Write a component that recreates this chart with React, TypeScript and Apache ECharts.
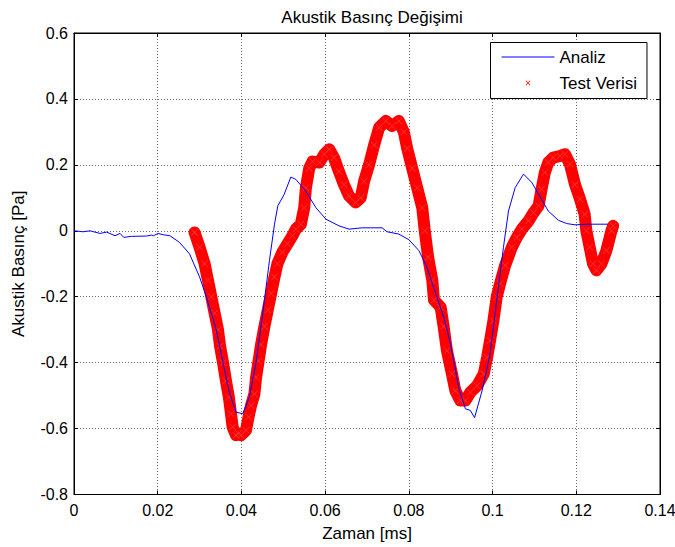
import React, { useEffect, useRef } from "react";
import * as echarts from "echarts";

const xTicks = [0, 0.02, 0.04, 0.06, 0.08, 0.1, 0.12, 0.14];
const yTicks = [-0.8, -0.6, -0.4, -0.2, 0, 0.2, 0.4, 0.6];

const analizX = [
  0, 0.0022, 0.0038, 0.0062, 0.0078, 0.0098, 0.011, 0.0119, 0.0137, 0.0173, 0.0185, 0.019, 0.0201, 0.0213,
  0.0229, 0.0252, 0.0276, 0.03, 0.0316, 0.034, 0.0356, 0.0371, 0.0387, 0.0403, 0.0419, 0.0435, 0.045,
  0.0467, 0.0479, 0.0487, 0.0502, 0.0518, 0.053, 0.0554, 0.0578, 0.0602, 0.0633, 0.0657, 0.0688, 0.0736,
  0.0748, 0.0776, 0.08, 0.0824, 0.0843, 0.0864, 0.0883, 0.0899, 0.0919, 0.0935, 0.0947, 0.0957, 0.0975,
  0.0994, 0.1014, 0.1026, 0.1038, 0.1054, 0.1074, 0.1094, 0.111, 0.1133, 0.1157, 0.1177, 0.1197, 0.1229,
  0.1276,
];
const analizY = [
  0, -0.003, 0, -0.008, -0.004, -0.015, -0.008, -0.02, -0.017, -0.016, -0.013, -0.015, -0.008, -0.012,
  -0.015, -0.035, -0.07, -0.14, -0.2, -0.3, -0.4, -0.49, -0.55, -0.555, -0.505, -0.4, -0.26,
  -0.09, 0.02, 0.076, 0.11, 0.163, 0.156, 0.12, 0.07, 0.035, 0.015, 0.005, 0.009, 0.009,
  -0.003, -0.01, -0.027, -0.06, -0.11, -0.19, -0.26, -0.34, -0.475, -0.54, -0.545, -0.567, -0.485,
  -0.374, -0.17, -0.05, 0.06, 0.131, 0.172, 0.146, 0.111, 0.06, 0.032, 0.022, 0.018, 0.02,
  0.02,
];

const testX = [
  0.0288, 0.03, 0.0312, 0.032, 0.0328, 0.0336, 0.0344, 0.0349, 0.0356, 0.0363, 0.037, 0.0375, 0.0379,
  0.0387, 0.0393, 0.0399, 0.0411, 0.0417, 0.0423, 0.0431, 0.0435, 0.0441, 0.0447, 0.0455, 0.0463, 0.0471,
  0.0479, 0.0486, 0.0498, 0.051, 0.0522, 0.053, 0.0542, 0.055, 0.0554, 0.0562, 0.057, 0.0586, 0.0598,
  0.061, 0.0621, 0.0633, 0.0645, 0.0657, 0.0673, 0.0685, 0.0693, 0.0705, 0.0717, 0.0729, 0.0745, 0.076,
  0.0776, 0.0788, 0.0796, 0.0808, 0.082, 0.0832, 0.0838, 0.0846, 0.0856, 0.086, 0.0876, 0.0883, 0.0891,
  0.0903, 0.0911, 0.0923, 0.0935, 0.0947, 0.0963, 0.0979, 0.0987, 0.0994, 0.1002, 0.101, 0.1018, 0.103,
  0.1046, 0.1058, 0.107, 0.1086, 0.1098, 0.111, 0.1117, 0.1125, 0.1133, 0.1145, 0.1161, 0.1173, 0.1185,
  0.1197, 0.1209, 0.122, 0.1224, 0.1232, 0.124, 0.1248, 0.126, 0.1272, 0.1284, 0.1288,
];
const testY = [
  -0.005, -0.05, -0.1, -0.15, -0.2, -0.25, -0.3, -0.35, -0.4, -0.455, -0.505, -0.555, -0.595,
  -0.62, -0.615, -0.62, -0.605, -0.565, -0.53, -0.495, -0.445, -0.395, -0.345, -0.29, -0.24, -0.19,
  -0.14, -0.1, -0.065, -0.04, -0.015, 0.005, 0.02, 0.07, 0.13, 0.19, 0.21, 0.207, 0.232,
  0.247, 0.222, 0.18, 0.14, 0.106, 0.086, 0.1, 0.15, 0.2, 0.26, 0.313, 0.333, 0.318,
  0.333, 0.3, 0.25, 0.19, 0.13, 0.07, 0.0, -0.08, -0.15, -0.21, -0.232, -0.29, -0.364,
  -0.434, -0.485, -0.515, -0.515, -0.49, -0.47, -0.434, -0.384, -0.333, -0.273, -0.2, -0.16, -0.105,
  -0.05, -0.02, 0.005, 0.03, 0.055, 0.076, 0.126, 0.177, 0.207, 0.222, 0.227, 0.232, 0.202,
  0.14, 0.096, 0.05, 0.0, -0.05, -0.1, -0.12, -0.1, -0.06, 0.0, 0.015,
];

const X_ICON =
  "path://M0,0L0.01,0L0,0.01Z M20,20L19.99,20L20,19.99Z M6.5,7.3L7.3,6.5L10,9.2L12.7,6.5L13.5,7.3L10.8,10L13.5,12.7L12.7,13.5L10,10.8L7.3,13.5L6.5,12.7L9.2,10Z";
const X_MARK =
  "path://M0,0.8L0.8,0L5,4.2L9.2,0L10,0.8L5.8,5L10,9.2L9.2,10L5,5.8L0.8,10L0,9.2L4.2,5Z";
const LINE_ICON = "path://M0,0L53,0L53,1.1L0,1.1Z";

const FONT = "Arial, 'Liberation Sans', sans-serif";

export default function App() {
  const ref = useRef<HTMLDivElement>(null);
  useEffect(() => {
    if (!ref.current) return;
    const chart = echarts.init(ref.current, null, { renderer: "svg" });
    const axisCommon = {
      type: "value" as const,
      axisLine: { show: true, onZero: false, lineStyle: { color: "#000", width: 1 } },
      axisTick: { show: true, inside: true, length: 4, lineStyle: { color: "#000" } },
    };
    const fmt = (ticks: number[]) => (v: number) => {
      const t = ticks.find((k) => Math.abs(k - v) < 1e-9);
      return String(t !== undefined ? t : v);
    };
    chart.setOption({
      animation: false,
      backgroundColor: "#fff",
      title: {
        text: "Akustik Basınç Değişimi",
        left: 367,
        top: 4,
        textAlign: "center",
        textStyle: { fontFamily: FONT, fontSize: 17, fontWeight: "normal", color: "#000" },
      },
      grid: {
        left: 74,
        right: 15,
        top: 33,
        bottom: 52.5,
        containLabel: false,
        outerBoundsMode: "none",
        show: true,
        borderColor: "#000",
        borderWidth: 1,
        backgroundColor: "#fff",
      },
      legend: {
        left: 490.5,
        top: 42.5,
        orient: "vertical",
        selectedMode: false,
        backgroundColor: "#fff",
        borderColor: "#000",
        borderWidth: 1,
        borderRadius: 0,
        padding: [6, 10, 7, 11],
        itemWidth: 53,
        itemHeight: 14,
        itemGap: 9,
        textStyle: { fontFamily: FONT, fontSize: 17, color: "#000" },
        data: [
          { name: "Analiz", icon: LINE_ICON, itemStyle: { color: "#0000ff" } },
          { name: "Test Verisi", icon: X_ICON, itemStyle: { color: "#ff0000" } },
        ],
      },
      xAxis: [
        {
          ...axisCommon,
          min: 0,
          max: 0.14,
          interval: 0.02,
          position: "bottom",
          name: "Zaman [ms]",
          nameLocation: "middle",
          nameGap: 30,
          nameTextStyle: { fontFamily: FONT, fontSize: 17, color: "#000" },
          axisLabel: { margin: 8, fontFamily: FONT, fontSize: 16, color: "#000", formatter: fmt(xTicks) },
          splitLine: { show: true, lineStyle: { color: "#707070", type: [1, 2], width: 1 } },
        },
        {
          ...axisCommon,
          min: 0,
          max: 0.14,
          interval: 0.02,
          position: "top",
          axisLabel: { show: false },
          splitLine: { show: false },
        },
      ],
      yAxis: [
        {
          ...axisCommon,
          min: -0.8,
          max: 0.6,
          interval: 0.2,
          position: "left",
          name: "Akustik Basınç [Pa]",
          nameLocation: "middle",
          nameGap: 47,
          nameRotate: 90,
          nameTextStyle: { fontFamily: FONT, fontSize: 17, color: "#000" },
          axisLabel: { margin: 6, fontFamily: FONT, fontSize: 16, color: "#000", formatter: fmt(yTicks) },
          splitLine: { show: true, lineStyle: { color: "#707070", type: [1, 2], width: 1 } },
        },
        {
          ...axisCommon,
          min: -0.8,
          max: 0.6,
          interval: 0.2,
          position: "right",
          axisLabel: { show: false },
          splitLine: { show: false },
        },
      ],
      series: [
        {
          name: "Analiz",
          type: "line",
          xAxisIndex: 0,
          yAxisIndex: 0,
          symbol: "none",
          lineStyle: { color: "#0000ff", width: 1 },
          itemStyle: { color: "#0000ff" },
          data: analizX.map((x, i) => [x, analizY[i]]),
          z: 3,
        },
        {
          name: "Test Verisi",
          type: "line",
          xAxisIndex: 0,
          yAxisIndex: 0,
          symbol: X_MARK,
          symbolSize: 7,
          showSymbol: true,
          lineStyle: { color: "#ff0000", width: 12, cap: "round", join: "round" },
          itemStyle: { color: "#ff3030" },
          data: testX.map((x, i) => [x, testY[i]]),
          z: 2,
        },
      ],
    });
    return () => chart.dispose();
  }, []);
  return <div ref={ref} style={{ position: "absolute", left: 0, top: 0, width: 675, height: 547 }} />;
}
